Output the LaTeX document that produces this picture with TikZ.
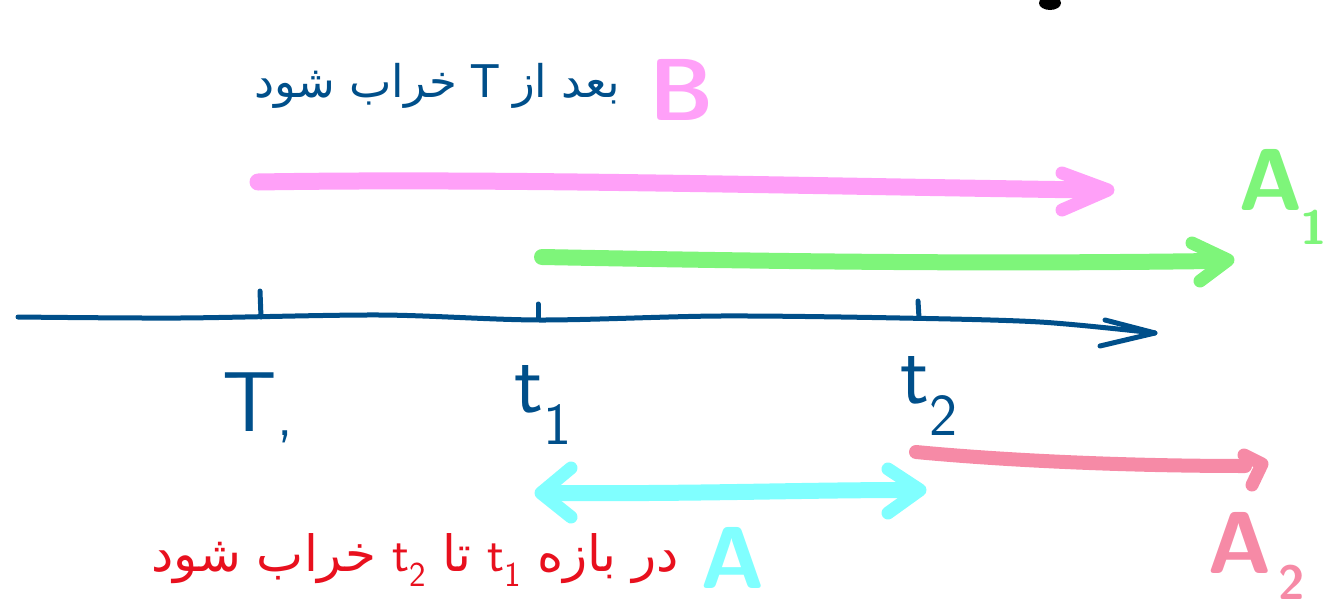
\documentclass[tikz,border=0pt]{standalone}
\usepackage{fontspec}
\usetikzlibrary{calc}
\newfontfamily\arabicfont[Script=Arabic]{DejaVu Sans}
\TeXXeTstate=1
\definecolor{inkblue}{RGB}{0,79,138}
\definecolor{pinkB}{RGB}{255,160,248}
\definecolor{greenA}{RGB}{126,245,122}
\definecolor{cyanA}{RGB}{128,255,255}
\definecolor{salmonA}{RGB}{246,138,166}
\definecolor{redink}{RGB}{232,16,30}
\begin{document}
\begin{tikzpicture}[x=1pt,y=-1pt,line cap=round,line join=round,
  axisline/.style={inkblue,line width=5},
  shaft/.style={line width=16},
  headstroke/.style={line width=13},
  tlabel/.style={inner sep=0,text=inkblue,font=\sffamily\fontsize{85}{90}\selectfont},
  biglabel/.style={inner sep=0,font=\sffamily\bfseries\fontsize{88}{95}\selectfont},
  sublabel/.style={inner sep=0,font=\sffamily\bfseries\fontsize{48}{52}\selectfont},
  fatext/.style={inner sep=0,font=\arabicfont\fontsize{45}{50}\selectfont}]
\useasboundingbox (0,0) rectangle (1328,608);
% small black mark at top edge
\fill[black] (1050,3) ellipse [x radius=11, y radius=7];
% axis
\coordinate (a0) at (18,317);
\coordinate (a1) at (1155,333);
\draw[axisline] plot[smooth] coordinates {(a0) (180,318) (380,315) (540,320) (720,316) (900,318) (1040,322) (a1)};
\draw[axisline] (1105,320) -- (a1) -- (1100,346);
% ticks
\coordinate (k0) at (261,317); \coordinate (k0t) at (260,291);
\coordinate (k1) at (538,318); \coordinate (k1t) at (538,304);
\coordinate (k2) at (919,318); \coordinate (k2t) at (918,301);
\draw[axisline] (k0) -- (k0t);
\draw[axisline] (k1) -- (k1t);
\draw[axisline] (k2) -- (k2t);
% axis labels
\node[tlabel] (lT) at (258,408) {T\textsubscript{,}};
\node[tlabel] (lt1) at (543,405) {t\textsubscript{1}};
\node[tlabel] (lt2) at (929,396) {t\textsubscript{2}};
% pink arrow B
\coordinate (pS) at (258,182);
\coordinate (pE) at (1108,190);
\coordinate (pM) at (1090,190);
\draw[pinkB,shaft,line width=17] (pS) .. controls (500,178) and (800,186) .. (pM);
\draw[pinkB,headstroke] ($(pE)+(-46,-17)$) -- (pE) -- ($(pE)+(-46,20)$);
\node[biglabel,text=pinkB] (lB) at (682,90) {B};
% green arrow A1
\coordinate (gS) at (542,257);
\coordinate (gE) at (1228,260);
\coordinate (gM) at (1212,261);
\draw[greenA,shaft] (gS) .. controls (800,262) and (1000,264) .. (gM);
\draw[greenA,headstroke] ($(gE)+(-36,-17)$) -- (gE) -- ($(gE)+(-28,21)$);
\node[biglabel,text=greenA] (lA1) at (1271,180) {A};
\node[sublabel,text=greenA] (lA1s) at (1314,227) {1};
% cyan double arrow A
\coordinate (cL) at (541,493);
\coordinate (cR) at (920,490);
\draw[cyanA,shaft] ($(cL)+(10,0)$) .. controls (700,494) and (800,490) .. ($(cR)+(-10,0)$);
\draw[cyanA,headstroke] ($(cL)+(30,-25)$) -- (cL) -- ($(cL)+(30,24)$);
\draw[cyanA,headstroke] ($(cR)+(-32,-21)$) -- (cR) -- ($(cR)+(-32,23)$);
\node[biglabel,text=cyanA] (lA) at (733,558) {A};
% salmon arrow A2
\coordinate (sS) at (916,452);
\coordinate (sE) at (1262,464);
\coordinate (sM) at (1245,466);
\draw[salmonA,shaft,line width=14] (sS) .. controls (1000,460) and (1120,466) .. (sM);
\draw[salmonA,headstroke] ($(sE)+(-18,-9)$) -- (sE) -- ($(sE)+(-10,21)$);
\node[biglabel,text=salmonA] (lA2) at (1240,543) {A};
\node[sublabel,text=salmonA] (lA2s) at (1292,582) {2};
% Persian texts
\node[fatext,text=inkblue] (top) at (437,86) {\beginR بعد از \beginL T\endL{} خراب شود\endR};
\node[fatext,text=redink,font=\arabicfont\fontsize{50}{56}\selectfont] (bottom) at (415,560) {\beginR در بازه \beginL{\sffamily t\textsubscript{1}}\endL{} تا \beginL{\sffamily t\textsubscript{2}}\endL{} خراب شود\endR};
\end{tikzpicture}
\end{document}
